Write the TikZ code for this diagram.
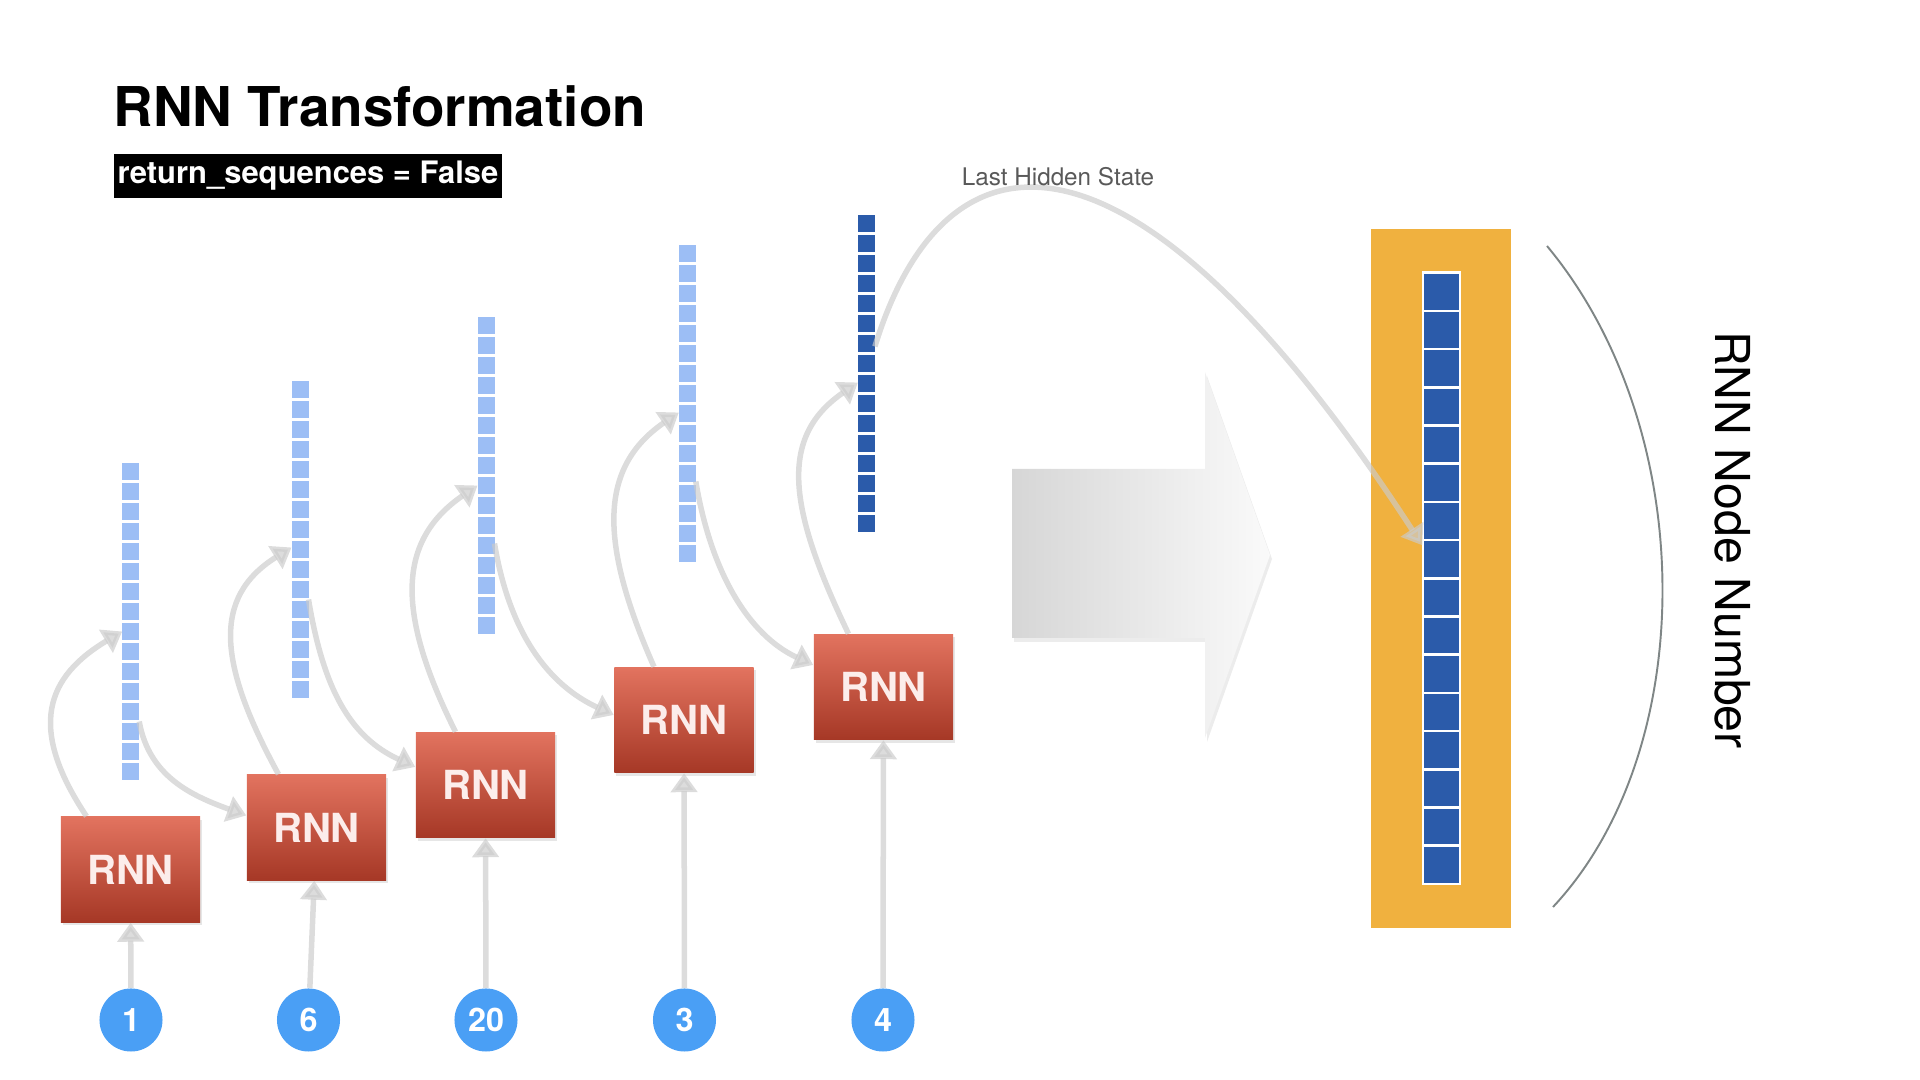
\documentclass[tikz,border=0pt]{standalone}
\usepackage{fontspec}
\setmainfont{TeX Gyre Heros}
\usetikzlibrary{arrows.meta,shadows}

\definecolor{rnntop}{HTML}{E2735F}
\definecolor{rnnbot}{HTML}{A63826}
\definecolor{rnntext}{HTML}{FCEDEB}
\definecolor{inblue}{HTML}{4A9FF5}
\definecolor{cellblue}{HTML}{9CBEF5}
\definecolor{lastblue}{HTML}{2B5BAA}
\definecolor{poolorange}{HTML}{F0B13F}
\definecolor{flowgray}{HTML}{CBCBCB}
\definecolor{labelgray}{HTML}{595959}
\definecolor{arcgray}{HTML}{7F8686}

\begin{document}
\begin{tikzpicture}[x=0.01cm, y=-0.01cm,
        rnn/.style = {rectangle, top color=rnntop, bottom color=rnnbot, text=rnntext, minimum width=1.39cm, minimum height=1.05cm, inner sep=0pt, font=\bfseries\fontsize{11.4}{13}\selectfont, drop shadow={opacity=0.2, shadow xshift=0.2mm, shadow yshift=-0.3mm}},
        inp/.style = {circle, fill=inblue, text=white, minimum size=0.63cm, inner sep=0pt, font=\bfseries\fontsize{9.2}{11}\selectfont},
        vec/.style = {rectangle, inner sep=0pt, outer sep=0pt, minimum width=0.17cm, minimum height=3.17cm},
        flow/.style = {draw=flowgray, opacity=0.67, line width=0.55mm, >={Triangle[length=1.9mm, width=2.6mm]}}]
        \useasboundingbox (0,0) rectangle (1920,1080);

        % title
        \node[anchor=base west, inner sep=0pt, font=\bfseries\fontsize{15.6}{18}\selectfont] (title) at (113,127) {RNN Transformation};
        \node[fill=black, text=white, minimum width=3.88cm, minimum height=0.44cm, inner sep=0pt, font=\bfseries\fontsize{8.8}{11}\selectfont] (flag) at (308,176) {return\_sequences = False};

        % big arrow
        \path[left color=black!16, right color=black!2, drop shadow={opacity=0.15, shadow xshift=0.2mm, shadow yshift=-0.4mm}]
            (1012,469) -- (1205,469) -- (1205,372) -- (1270,555) -- (1205,738) -- (1205,638) -- (1012,638) -- cycle;

        % inputs and cells
        \node[inp] (i1) at (131,1020) {1};
        \node[inp] (i2) at (308.5,1020) {6};
        \node[inp] (i3) at (486,1020) {20};
        \node[inp] (i4) at (684.5,1020) {3};
        \node[inp] (i5) at (883,1020) {4};
        \node[rnn] (r1) at (130.5,869.5) {RNN};
        \node[rnn] (r2) at (316.5,827.5) {RNN};
        \node[rnn] (r3) at (485.5,785) {RNN};
        \node[rnn] (r4) at (684,720) {RNN};
        \node[rnn] (r5) at (883.5,687) {RNN};

        % hidden states
        \foreach \n/\x/\t in {1/130.7/463, 2/300/381, 3/486/317, 4/687.3/245} {
            \node[vec] (v\n) at (\x,\t+158.5) {};
            \foreach \k in {0,...,15}
                \fill[cellblue] (\x-8.5,\t+20*\k) rectangle ++(17,17);
        }
        \node[vec] (v5) at (866.4,373.5) {};
        \foreach \k in {0,...,15}
            \fill[lastblue] (857.9,215+20*\k) rectangle ++(17,17);

        % output
        \node[fill=poolorange, minimum width=1.40cm, minimum height=6.98cm, inner sep=0pt] (pool) at (1441,578.4) {};
        \node[rectangle, minimum width=0.37cm, minimum height=6.11cm, inner sep=0pt] (hv) at (1441.5,578.3) {};
        \foreach \k in {0,...,15}
            \filldraw[fill=lastblue, draw=white, line width=0.25mm] (1423,272.7+38.2*\k) rectangle ++(37,38.2);
        \draw[arcgray, line width=0.55pt] (1547,246) .. controls (1700,430) and (1700,750) .. (1553,907);
        \node[rotate=-90, font=\fontsize{13.7}{16}\selectfont] (axis) at (1733,540) {RNN Node Number};

        % connectors
        \draw[flow,->] (i1) -- (r1);
        \draw[flow,->] (i2) -- (r2);
        \draw[flow,->] (i3) -- (r3);
        \draw[flow,->] (i4) -- (r4);
        \draw[flow,->] (i5) -- (r5);
        \draw[flow,->] ([xshift=-4.4mm]r1.north) .. controls +(-60,-90) and +(-75,45) .. ([yshift=-1mm]v1.west);
        \draw[flow,->] ([xshift=-3.8mm]r2.north) .. controls +(-60,-110) and +(-80,50) .. ([yshift=-0.8mm]v2.west);
        \draw[flow,->] ([xshift=-3mm]r3.north) .. controls +(-60,-120) and +(-80,55) .. ([yshift=-1mm]v3.west);
        \draw[flow,->] ([xshift=-3mm]r4.north) .. controls +(-55,-125) and +(-80,55) .. ([yshift=-0.9mm]v4.west);
        \draw[flow,->] ([xshift=-3.5mm]r5.north) .. controls +(-60,-125) and +(-80,55) .. ([yshift=-0.9mm]v5.west);
        \draw[flow,->] ([yshift=-10mm]v1.east) .. controls +(10,55) and +(-55,-20) .. ([yshift=1.2mm]r2.west);
        \draw[flow,->] ([yshift=-6mm]v2.east) .. controls +(15,90) and +(-65,-30) .. ([yshift=1.8mm]r3.west);
        \draw[flow,->] ([yshift=-6.8mm]v3.east) .. controls +(15,90) and +(-65,-30) .. ([yshift=0.5mm]r4.west);
        \draw[flow,->] ([yshift=-7.8mm]v4.east) .. controls +(15,90) and +(-65,-30) .. ([yshift=2.2mm]r5.west);
        \draw[flow,->] ([yshift=2.7mm]v5.east) .. controls +(73,-237) and +(-283,-435) .. ([yshift=3.3mm]hv.west);
        \node[anchor=base, text=labelgray, font=\fontsize{6.9}{8}\selectfont] (lhs) at (1058,186) {Last Hidden State};
\end{tikzpicture}
\end{document}
